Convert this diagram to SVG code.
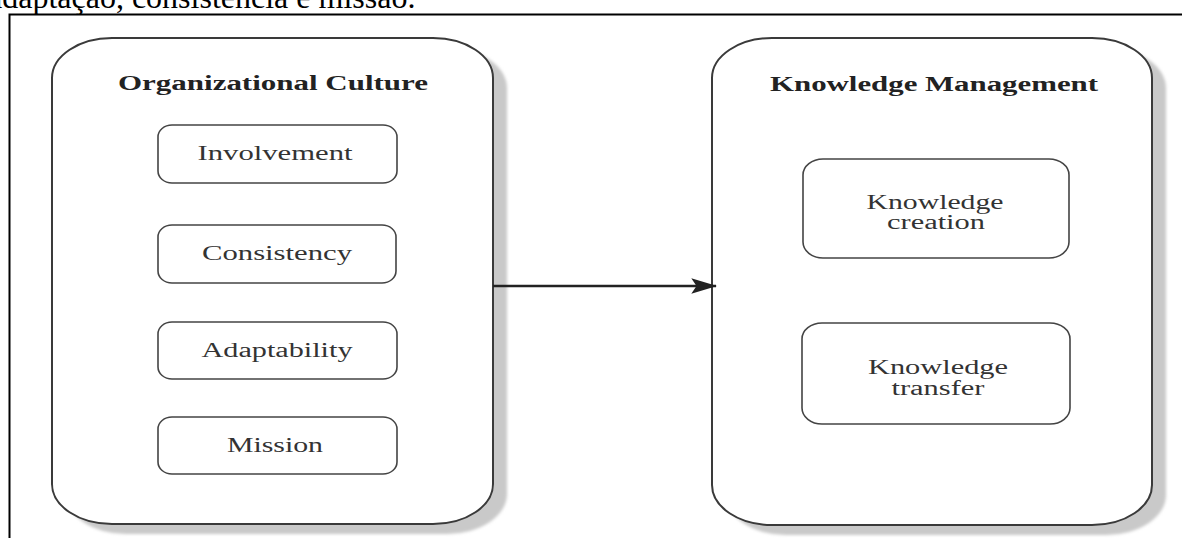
<svg xmlns="http://www.w3.org/2000/svg" width="1182" height="538" viewBox="0 0 1182 538">
  <style>
    .frame { stroke: #000; stroke-width: 2; fill: none; }
    .outer { fill: #fff; stroke: #3a3a3a; stroke-width: 2; }
    .shadow { fill: #c9c9c9; }
    .inner { fill: #fff; stroke: #444; stroke-width: 1.6; }
    .title { font-family: "Liberation Serif", "Times New Roman", serif; font-weight: bold; font-size: 20px; fill: #222; text-anchor: middle; }
    .label { font-family: "Liberation Serif", "Times New Roman", serif; font-size: 20px; fill: #333; text-anchor: middle; }
    .caption { font-family: "Liberation Serif", "Times New Roman", serif; font-size: 32px; fill: #000; }
    .link { stroke: #222; stroke-width: 2.6; fill: none; }
  </style>
  <defs>
    <marker id="arrowhead" markerWidth="10" markerHeight="6" refX="9.5" refY="3" orient="auto" markerUnits="strokeWidth">
      <path d="M0,0 L10,3 L0,6 L2,3 Z" fill="#222"/>
    </marker>
    <filter id="soft" x="-5%" y="-5%" width="110%" height="110%">
      <feGaussianBlur stdDeviation="1.5"/>
    </filter>
  </defs>

  <rect width="1182" height="538" fill="#fff"/>

  <!-- running text line above the figure frame -->
  <text class="caption" x="-12" y="8">adaptação, consistência e missão.</text>

  <!-- figure frame -->
  <path class="frame" d="M9.5,538 L9.5,14.5 L1182,14.5"/>

  <!-- left container: Organizational Culture -->
  <g id="organizational-culture">
    <rect class="shadow" filter="url(#soft)" x="66" y="48" width="441" height="486" rx="60" ry="40"/>
    <rect class="outer" x="52" y="38" width="441" height="486" rx="60" ry="40"/>
    <text class="title" x="273" y="90" textLength="310" lengthAdjust="spacingAndGlyphs">Organizational Culture</text>
  </g>

  <g id="involvement">
    <rect class="inner" x="158" y="125" width="239" height="58" rx="14" ry="12"/>
    <text class="label" x="275" y="160" textLength="155" lengthAdjust="spacingAndGlyphs">Involvement</text>
  </g>

  <g id="consistency">
    <rect class="inner" x="158" y="225" width="238" height="58" rx="14" ry="12"/>
    <text class="label" x="277" y="260" textLength="150" lengthAdjust="spacingAndGlyphs">Consistency</text>
  </g>

  <g id="adaptability">
    <rect class="inner" x="158" y="322" width="239" height="57" rx="14" ry="12"/>
    <text class="label" x="277" y="357" textLength="151" lengthAdjust="spacingAndGlyphs">Adaptability</text>
  </g>

  <g id="mission">
    <rect class="inner" x="158" y="417" width="239" height="57" rx="14" ry="12"/>
    <text class="label" x="275" y="452" textLength="96" lengthAdjust="spacingAndGlyphs">Mission</text>
  </g>

  <!-- right container: Knowledge Management -->
  <g id="knowledge-management">
    <rect class="shadow" filter="url(#soft)" x="726" y="48" width="440" height="487" rx="60" ry="40"/>
    <rect class="outer" x="712" y="38" width="440" height="487" rx="60" ry="40"/>
    <text class="title" x="934" y="91" textLength="328" lengthAdjust="spacingAndGlyphs">Knowledge Management</text>
  </g>

  <g id="knowledge-creation">
    <rect class="inner" x="803" y="159" width="266" height="99" rx="20" ry="16"/>
    <text class="label" x="935" y="209" textLength="137" lengthAdjust="spacingAndGlyphs">Knowledge</text>
    <text class="label" x="936" y="229" textLength="98" lengthAdjust="spacingAndGlyphs">creation</text>
  </g>

  <g id="knowledge-transfer">
    <rect class="inner" x="802" y="323" width="268" height="101" rx="20" ry="16"/>
    <text class="label" x="938" y="374" textLength="140" lengthAdjust="spacingAndGlyphs">Knowledge</text>
    <text class="label" x="938" y="395" textLength="93" lengthAdjust="spacingAndGlyphs">transfer</text>
  </g>

  <!-- connectors -->
  <g id="connectors">
    <line class="link" x1="493" y1="286" x2="716" y2="286" marker-end="url(#arrowhead)"/>
  </g>
</svg>
